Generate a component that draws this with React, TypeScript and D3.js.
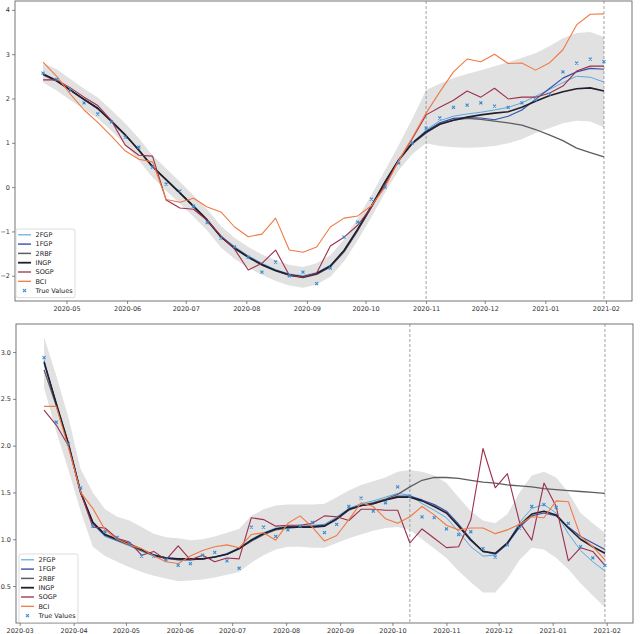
import React, { useEffect, useRef } from "react";
import * as d3 from "d3";

// ---- top panel data (weekly, from 2020-04-19) ----
const topStart = "2020-04-19";
const topCutoffs = ["2020-11-01", "2021-01-31"];
const topTrue = [2.57, 2.43, 2.19, 1.9, 1.65, 1.47, 1.13, 0.9, 0.45, 0.07, -0.09, -0.43, -0.8, -1.15, -1.35, -1.58, -1.92, -1.69, -2.0, -1.92, -2.18, -1.83, -1.13, -0.79, -0.27, 0.0, 0.54, 1.0, 1.33, 1.56, 1.8, 1.85, 1.9, 1.83, 1.8, 1.9, 1.97, 2.1, 2.6, 2.8, 2.89, 2.83];
const top2FGP = [2.57, 2.41, 2.19, 1.97, 1.76, 1.48, 1.17, 0.83, 0.47, 0.18, -0.12, -0.43, -0.76, -1.1, -1.34, -1.55, -1.72, -1.86, -1.96, -2.0, -1.93, -1.76, -1.42, -0.94, -0.42, 0.13, 0.62, 1.0, 1.29, 1.5, 1.6, 1.65, 1.69, 1.74, 1.8, 1.9, 2.05, 2.2, 2.36, 2.5, 2.48, 2.37];
const top1FGP = [2.56, 2.4, 2.18, 1.97, 1.77, 1.49, 1.18, 0.84, 0.47, 0.17, -0.13, -0.44, -0.76, -1.12, -1.37, -1.57, -1.74, -1.88, -1.98, -2.02, -1.96, -1.79, -1.45, -0.97, -0.44, 0.11, 0.61, 0.99, 1.26, 1.45, 1.55, 1.57, 1.56, 1.52, 1.6, 1.74, 1.98, 2.22, 2.46, 2.6, 2.68, 2.66];
const top2RBF = [2.53, 2.39, 2.19, 1.98, 1.78, 1.5, 1.19, 0.84, 0.46, 0.16, -0.14, -0.44, -0.75, -1.12, -1.38, -1.59, -1.76, -1.89, -1.99, -2.04, -1.97, -1.8, -1.46, -0.98, -0.46, 0.1, 0.6, 0.98, 1.22, 1.42, 1.51, 1.55, 1.53, 1.49, 1.45, 1.4, 1.3, 1.18, 1.05, 0.88, 0.78, 0.68];
const topINGP = [2.55, 2.4, 2.19, 1.98, 1.78, 1.48, 1.18, 0.83, 0.46, 0.17, -0.13, -0.43, -0.74, -1.12, -1.38, -1.58, -1.75, -1.88, -1.98, -2.03, -1.95, -1.78, -1.43, -0.95, -0.43, 0.12, 0.62, 1.0, 1.24, 1.42, 1.51, 1.58, 1.63, 1.67, 1.7, 1.8, 1.94, 2.06, 2.15, 2.22, 2.24, 2.17];
const topSOGP = [2.42, 2.42, 2.24, 2.03, 1.84, 1.5, 0.95, 0.72, 0.7, -0.29, -0.47, -0.5, -0.75, -1.1, -1.4, -1.87, -1.72, -1.42, -1.99, -2.03, -1.94, -1.33, -1.13, -0.86, -0.45, 0.05, 0.6, 1.1, 1.63, 1.8, 1.96, 2.17, 2.03, 2.23, 1.99, 2.03, 2.03, 2.12, 2.28, 2.62, 2.73, 2.73];
const topBCI = [2.82, 2.5, 2.1, 1.74, 1.46, 1.15, 0.82, 0.63, 0.57, -0.28, -0.34, -0.25, -0.45, -0.56, -0.9, -1.12, -1.06, -0.7, -1.42, -1.47, -1.35, -0.9, -0.7, -0.65, -0.42, 0.0, 0.6, 1.12, 1.67, 2.15, 2.6, 2.89, 2.83, 3.0, 2.79, 2.8, 2.64, 2.8, 3.1, 3.66, 3.9, 3.91];
const topUpper = [2.8, 2.66, 2.44, 2.22, 2.02, 1.74, 1.44, 1.1, 0.72, 0.42, 0.12, -0.19, -0.5, -0.88, -1.14, -1.35, -1.52, -1.65, -1.75, -1.8, -1.72, -1.54, -1.18, -0.7, -0.18, 0.38, 0.95, 1.55, 2.19, 2.33, 2.46, 2.55, 2.64, 2.73, 2.82, 2.92, 3.02, 3.18, 3.36, 3.48, 3.5, 3.39];
const topLower = [2.36, 2.18, 1.96, 1.76, 1.55, 1.27, 0.96, 0.6, 0.22, -0.08, -0.37, -0.67, -0.98, -1.36, -1.62, -1.82, -1.98, -2.12, -2.22, -2.27, -2.2, -2.02, -1.68, -1.2, -0.68, -0.12, 0.38, 0.75, 0.99, 0.93, 0.9, 0.89, 0.9, 0.93, 0.99, 1.08, 1.22, 1.33, 1.44, 1.5, 1.48, 1.35];
const topYTicks = [-2, -1, 0, 1, 2, 3, 4];

// ---- bottom panel data (weekly, from 2020-03-15) ----
const botStart = "2020-03-15";
const botCutoffs = ["2020-10-11", "2021-01-31"];
const botTrue = [2.94, 2.25, 2.02, 1.55, 1.14, 1.08, 1.02, 0.95, 0.82, 0.82, 0.78, 0.72, 0.74, 0.83, 0.86, 0.77, 0.69, 1.13, 1.13, 1.03, 1.1, 1.14, 1.18, 1.07, 1.16, 1.35, 1.44, 1.3, 1.39, 1.56, 1.46, 1.24, 1.23, 1.11, 1.05, 1.08, 0.9, 0.81, 0.94, 1.12, 1.35, 1.37, 1.34, 1.17, 0.92, 0.8, 0.72];
const bot2FGP = [2.92, 2.44, 2.01, 1.5, 1.16, 1.03, 0.98, 0.93, 0.87, 0.82, 0.79, 0.78, 0.78, 0.79, 0.81, 0.85, 0.91, 1.0, 1.07, 1.12, 1.14, 1.14, 1.15, 1.16, 1.24, 1.33, 1.38, 1.41, 1.45, 1.49, 1.47, 1.38, 1.31, 1.23, 1.08, 0.92, 0.82, 0.83, 0.96, 1.18, 1.33, 1.37, 1.28, 1.06, 0.88, 0.76, 0.66];
const bot1FGP = [2.9, 2.45, 2.02, 1.51, 1.17, 1.04, 0.99, 0.94, 0.88, 0.83, 0.8, 0.78, 0.78, 0.79, 0.81, 0.84, 0.9, 0.99, 1.06, 1.11, 1.13, 1.13, 1.14, 1.15, 1.22, 1.32, 1.36, 1.38, 1.42, 1.46, 1.46, 1.42, 1.37, 1.3, 1.16, 1.0, 0.87, 0.84, 0.95, 1.13, 1.25, 1.28, 1.25, 1.13, 1.03, 0.96, 0.89];
const bot2RBF = [2.81, 2.43, 2.01, 1.5, 1.18, 1.05, 0.99, 0.94, 0.88, 0.83, 0.8, 0.79, 0.79, 0.79, 0.81, 0.84, 0.9, 0.98, 1.05, 1.1, 1.12, 1.13, 1.13, 1.14, 1.21, 1.31, 1.36, 1.39, 1.43, 1.48, 1.56, 1.63, 1.66, 1.66, 1.65, 1.63, 1.61, 1.6, 1.58, 1.57, 1.56, 1.54, 1.53, 1.52, 1.51, 1.5, 1.49];
const botINGP = [2.89, 2.45, 2.02, 1.5, 1.18, 1.05, 1.0, 0.95, 0.89, 0.83, 0.8, 0.79, 0.79, 0.79, 0.81, 0.84, 0.9, 0.99, 1.06, 1.11, 1.13, 1.13, 1.13, 1.14, 1.22, 1.32, 1.36, 1.38, 1.42, 1.45, 1.45, 1.41, 1.35, 1.28, 1.14, 0.99, 0.87, 0.85, 0.96, 1.15, 1.27, 1.3, 1.26, 1.12, 1.0, 0.92, 0.85];
const botSOGP = [2.38, 2.22, 2.0, 1.5, 1.13, 1.12, 1.01, 0.97, 0.83, 0.87, 0.78, 0.93, 0.78, 0.83, 0.76, 0.8, 0.79, 1.23, 1.21, 1.14, 1.15, 1.15, 1.17, 1.25, 1.24, 1.2, 1.32, 1.32, 1.31, 1.31, 0.96, 1.11, 1.01, 0.91, 0.92, 1.21, 1.97, 1.55, 1.7, 1.18, 0.99, 1.6, 1.35, 0.77, 0.91, 0.87, 0.72];
const botBCI = [2.42, 2.42, 1.98, 1.5, 1.33, 1.1, 1.0, 0.94, 0.9, 0.82, 0.76, 0.74, 0.82, 0.88, 0.92, 0.94, 0.91, 1.05, 1.07, 0.99, 1.17, 1.25, 1.13, 0.98, 1.04, 1.21, 1.39, 1.35, 1.22, 1.17, 1.24, 1.35, 1.26, 1.15, 1.1, 1.12, 1.12, 1.06, 1.1, 1.16, 1.24, 1.23, 1.41, 1.4, 1.03, 0.92, 0.78];
const botUpper = [3.16, 2.75, 2.3, 1.75, 1.5, 1.32, 1.24, 1.2, 1.13, 1.06, 1.02, 1.01, 0.99, 1.0, 1.03, 1.07, 1.11, 1.25, 1.32, 1.36, 1.37, 1.37, 1.37, 1.38, 1.45, 1.52, 1.58, 1.62, 1.66, 1.72, 1.74, 1.72, 1.68, 1.6, 1.45, 1.3, 1.2, 1.17, 1.27, 1.5, 1.68, 1.72, 1.66, 1.5, 1.28, 1.17, 1.07];
const botLower = [2.62, 2.15, 1.74, 1.3, 0.92, 0.82, 0.76, 0.7, 0.65, 0.61, 0.58, 0.55, 0.56, 0.57, 0.59, 0.62, 0.65, 0.75, 0.83, 0.89, 0.92, 0.92, 0.91, 0.91, 0.96, 1.01, 1.05, 1.09, 1.12, 1.13, 1.1, 1.0, 0.9, 0.8, 0.66, 0.54, 0.43, 0.43, 0.58, 0.78, 0.91, 0.89, 0.8, 0.68, 0.53, 0.4, 0.27];
const botYTicks = [0.5, 1.0, 1.5, 2.0, 2.5, 3.0];

// model names / styles
const modelNames = ["2FGP", "1FGP", "2RBF", "INGP", "SOGP", "BCI"];
const modelColors = ["#5aaade", "#3652a6", "#5c5c64", "#231e2c", "#9c2f4c", "#f07a44"];
const modelWidths = [1, 1.2, 1.3, 1.6, 1.1, 1.1];
const trueColor = "#3a8ccf";
const font = "DejaVu Sans, Verdana, sans-serif";

const parse = d3.timeParse("%Y-%m-%d");

function weekly(start: string, n: number) {
  const s: any = parse(start);
  return d3.range(n).map((i) => d3.timeDay.offset(s, 7 * i));
}

function drawPanel(svg: any, p: any) {
  const dates = weekly(p.start, p.truth.length);
  const t0: any = dates[0];
  const t1: any = dates[dates.length - 1];
  const pad = (t1 - t0) * 0.05;
  const x = d3
    .scaleTime()
    .domain([new Date(+t0 - pad), new Date(+t1 + pad)])
    .range([p.left, p.right]);
  const y = d3.scaleLinear().domain(p.yDomain).range([p.bottom, p.top]);

  const g = svg.append("g");

  // confidence band
  const area: any = d3
    .area()
    .x((d: any, i: number) => x(dates[i]))
    .y0((d: any, i: number) => y(p.lower[i]))
    .y1((d: any) => y(d));
  g.append("path").datum(p.upper).attr("d", area).attr("fill", "#e1e1e1");

  // cutoff lines
  p.cutoffs.forEach((c: string) => {
    const xx = x(parse(c) as any);
    g.append("line")
      .attr("x1", xx)
      .attr("x2", xx)
      .attr("y1", p.top)
      .attr("y2", p.bottom)
      .attr("stroke", "#8a8a8a")
      .attr("stroke-width", 0.8)
      .attr("stroke-dasharray", "3,2");
  });

  // model lines
  const line: any = d3
    .line()
    .x((d: any, i: number) => x(dates[i]))
    .y((d: any) => y(d));
  p.series.forEach((s: any, k: number) => {
    g.append("path")
      .datum(s)
      .attr("d", line)
      .attr("fill", "none")
      .attr("stroke", modelColors[k])
      .attr("stroke-width", modelWidths[k])
      .attr("stroke-linejoin", "round");
  });

  // true values (x markers)
  const cross = "M-1.5,-1.5L1.5,1.5M-1.5,1.5L1.5,-1.5";
  g.append("g")
    .selectAll("path")
    .data(p.truth)
    .join("path")
    .attr("d", cross)
    .attr("transform", (d: any, i: number) => `translate(${x(dates[i])},${y(d)})`)
    .attr("stroke", trueColor)
    .attr("stroke-width", 1.1);

  // axes
  const months = d3.timeMonth.range(x.domain()[0], x.domain()[1]);
  const xAxis = g
    .append("g")
    .attr("transform", `translate(0,${p.bottom})`)
    .call(
      d3
        .axisBottom(x)
        .tickValues(months)
        .tickFormat(d3.timeFormat("%Y-%m") as any)
        .tickSize(3)
        .tickPadding(2)
    );
  const yAxis = g
    .append("g")
    .attr("transform", `translate(${p.left},0)`)
    .call(
      d3
        .axisLeft(y)
        .tickValues(p.yTicks)
        .tickFormat(d3.format(p.yFmt))
        .tickSize(3)
        .tickPadding(2)
    );
  [xAxis, yAxis].forEach((a: any) => {
    a.select(".domain").remove();
    a.selectAll("line").attr("stroke", "#555").attr("stroke-width", 0.7);
    a.selectAll("text").attr("font-family", font).attr("font-size", 6.5).attr("fill", "#333");
  });

  // frame
  g.append("rect")
    .attr("x", p.left)
    .attr("y", p.top)
    .attr("width", p.right - p.left)
    .attr("height", p.bottom - p.top)
    .attr("fill", "none")
    .attr("stroke", "#666")
    .attr("stroke-width", 0.9);

  // legend
  const lg = g.append("g").attr("transform", `translate(${p.legend[0]},${p.legend[1]})`);
  const labels = [...modelNames, "True Values"];
  const pitch = 9.3;
  lg.append("rect")
    .attr("width", 59)
    .attr("height", labels.length * pitch + 3.5)
    .attr("rx", 2)
    .attr("fill", "#fff")
    .attr("fill-opacity", 0.85)
    .attr("stroke", "#cfcfcf")
    .attr("stroke-width", 0.7);
  labels.forEach((name: string, k: number) => {
    const cy = 5.8 + k * pitch;
    if (k < modelNames.length) {
      lg.append("line")
        .attr("x1", 2)
        .attr("x2", 15)
        .attr("y1", cy)
        .attr("y2", cy)
        .attr("stroke", modelColors[k])
        .attr("stroke-width", modelWidths[k] + 0.2);
    } else {
      lg.append("path")
        .attr("d", cross)
        .attr("transform", `translate(8.5,${cy})`)
        .attr("stroke", trueColor)
        .attr("stroke-width", 1.1);
    }
    lg.append("text")
      .attr("x", 19.5)
      .attr("y", cy + 2.3)
      .attr("font-family", font)
      .attr("font-size", 6.5)
      .attr("fill", "#222")
      .text(name);
  });
}

const App = () => {
  const ref = useRef<SVGSVGElement>(null);

  useEffect(() => {
    const svg = d3.select(ref.current);
    svg.selectAll("*").remove();
    drawPanel(svg, {
      start: topStart,
      cutoffs: topCutoffs,
      truth: topTrue,
      series: [top2FGP, top1FGP, top2RBF, topINGP, topSOGP, topBCI],
      upper: topUpper,
      lower: topLower,
      yDomain: [-2.57, 4.2],
      yTicks: topYTicks,
      yFmt: "d",
      left: 15,
      right: 632,
      top: 1,
      bottom: 301,
      legend: [16, 229],
    });
    drawPanel(svg, {
      start: botStart,
      cutoffs: botCutoffs,
      truth: botTrue,
      series: [bot2FGP, bot1FGP, bot2RBF, botINGP, botSOGP, botBCI],
      upper: botUpper,
      lower: botLower,
      yDomain: [0.105, 3.3],
      yTicks: botYTicks,
      yFmt: ".1f",
      left: 16,
      right: 633,
      top: 324,
      bottom: 623,
      legend: [19, 554],
    });
  }, []);

  return (
    <svg
      ref={ref}
      width={640}
      height={634}
      style={{ position: "absolute", left: 0, top: 0, background: "#fff" }}
    />
  );
};

export default App;
